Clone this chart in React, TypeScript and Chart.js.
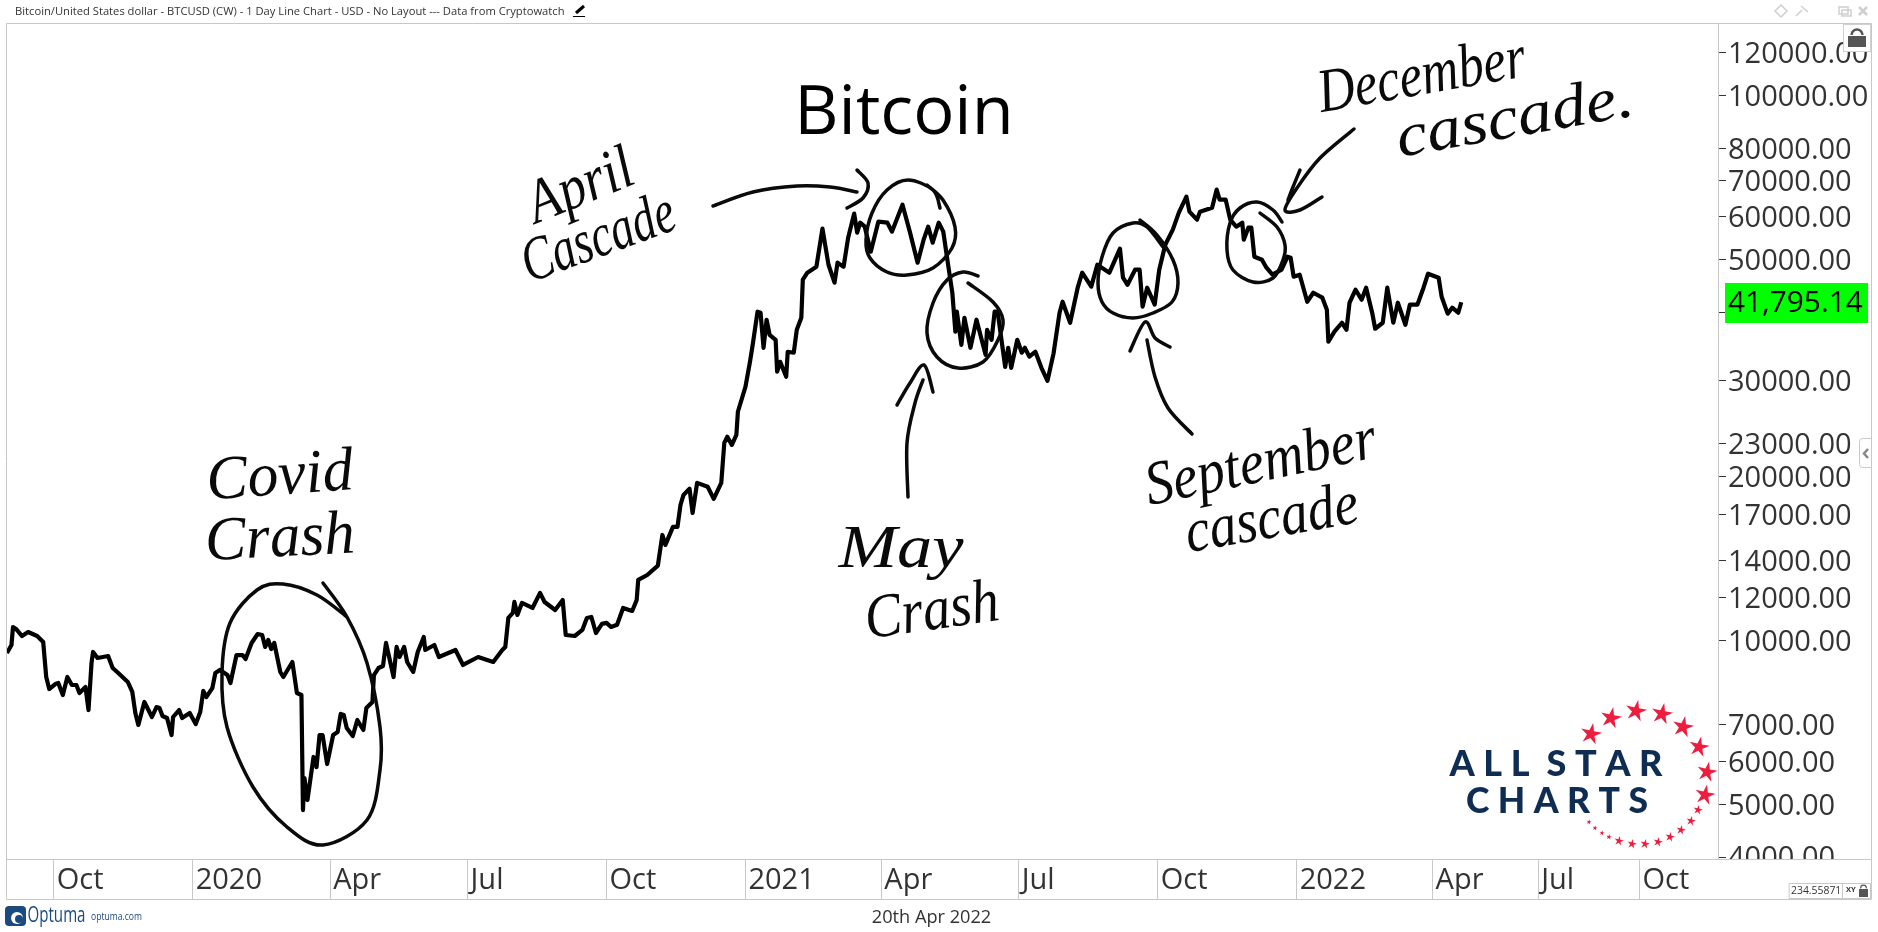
import React, { useEffect, useRef } from "react";
import { Chart, registerables } from "chart.js";

Chart.register(...registerables);

// days counted from 1 Oct 2019
const days = [-31,-28,-27,-25,-21,-17,-11,-7,-5,-3,1,3,6,9,12,15,17,21,23,25,26,29,36,39,42,49,52,54,56,60,65,68,70,72,75,78,79,83,85,90,94,97,99,101,105,107,110,115,117,121,125,127,131,135,138,140,142,144,146,150,152,158,161,164,165,166,168,172,174,176,178,181,185,188,190,192,194,198,201,205,207,211,212,215,218,220,225,227,229,232,234,238,241,245,246,252,255,266,271,281,291,297,299,301,304,305,307,310,317,322,325,332,337,339,345,350,353,356,359,363,366,369,373,377,383,386,387,393,400,403,405,410,413,415,417,421,423,426,433,437,442,444,446,449,452,453,458,461,463,466,468,470,472,474,478,479,481,485,486,490,492,495,496,499,505,509,513,517,519,523,526,530,532,534,537,541,546,552,555,562,567,572,576,579,582,586,589,592,595,597,598,601,603,607,611,617,618,621,623,625,630,632,634,638,641,643,646,650,654,658,662,666,668,673,678,681,687,691,699,706,708,711,716,719,721,724,729,732,736,741,745,750,752,757,759,767,770,772,776,779,783,787,788,791,793,795,800,803,807,813,817,819,821,825,830,834,840,843,844,848,853,856,858,862,866,869,873,875,880,883,887,890,895,898,903,907,910,917,919,923,926,930,932];
const prices = [9485,9810,10586,10497,10190,10363,10190,9935,8568,8144,8318,8353,7940,8568,8283,8283,8007,8212,7452,9091,9525,9285,9363,8900,8752,8390,8045,7360,6995,7710,7235,7545,7513,7265,7205,6705,7235,7452,7205,7360,7023,7390,8077,7873,8177,8715,8826,8640,8353,9402,9402,9246,9895,10277,10234,9730,10020,9645,9895,8752,8568,9130,8007,7940,4882,5590,5093,6110,5855,6705,6705,5930,6705,6790,7330,7297,6905,6676,7144,6848,7513,7710,8640,8900,8976,9895,8568,9730,9324,9730,9130,8752,9525,10148,9605,9810,9324,9605,9015,9324,9130,9605,9730,11000,11235,11768,11140,11720,11473,12227,11768,11376,11868,10234,10190,10453,10997,11043,10320,10728,10773,10586,10683,11473,11328,11868,12916,13190,13720,15620,14980,16165,16165,17740,18500,19000,17150,19470,19150,18200,19470,23060,23660,22860,23860,26300,29230,32490,35200,40150,39980,34470,38810,36420,35660,31150,32490,30500,33900,33760,37200,39140,45970,47350,48570,57040,48970,45390,49400,48570,54900,60800,56100,58500,57520,51750,58760,58500,56320,63130,56100,49400,54450,57520,53760,58500,56320,49400,43500,36900,40150,34900,39140,34470,38810,33470,37200,35660,40150,40150,31800,34470,31670,35660,33760,34470,33200,33900,31670,29980,33630,39980,41880,38320,44440,47350,44640,48970,47350,52410,46360,45000,47955,47955,41030,44440,41380,47955,53300,56800,61050,65300,61300,59255,61300,62340,67275,64490,64490,59255,57520,58500,54450,57280,57280,50660,50030,48360,46950,47955,50660,50450,46560,46950,41880,43500,42600,40490,35360,36900,38320,37200,41700,44060,42240,44440,39980,37360,38320,44440,38320,41700,38000,41380,41380,44440,47150,46360,42780,39820,40830,39980,41795];

const yTicks = [120000,100000,80000,70000,60000,50000,40000,30000,23000,20000,17000,14000,12000,10000,7000,6000,5000,4000];
const xTickDays = [0,92,183,274,366,458,548,639,731,823,913,983,1050];
const xTickLabels = ["Oct","2020","Apr","Jul","Oct","2021","Apr","Jul","Oct","2022","Apr","Jul","Oct"];

const titleText = "Bitcoin/United States dollar - BTCUSD (CW) - 1 Day Line Chart - USD - No Layout --- Data from Cryptowatch";
const lastPrice = "41,795.14";

type Pt = [number, number];
const strokes: Pt[][] = [
  [[323,583],[347,617],[367,663],[380,727],[380,770],[367,820],[323,845],[287,827],[253,787],[227,727],[222,673],[230,623],[257,590],[283,584],[317,595],[347,617]],
  [[713,206],[753,192],[797,186],[830,187],[857,192]],
  [[857,170],[868,183],[863,198],[847,208]],
  [[940,208],[933,190],[908,180],[887,190],[872,213],[866,240],[870,258],[887,272],[907,275],[933,268],[952,248],[955,227],[943,200],[927,185]],
  [[978,276],[963,272],[947,280],[933,303],[927,333],[937,357],[958,368],[983,362],[998,340],[1003,320],[993,302],[968,283]],
  [[897,405],[910,383],[924,365],[933,392]],
  [[923,380],[915,403],[907,443],[908,497]],
  [[1140,220],[1157,235],[1173,260],[1178,283],[1172,302],[1153,313],[1133,318],[1113,313],[1102,302],[1098,283],[1102,257],[1113,233],[1133,223],[1147,227],[1163,247]],
  [[1130,351],[1145,322],[1155,338],[1170,347]],
  [[1147,340],[1155,377],[1168,408],[1192,434]],
  [[1282,222],[1273,210],[1257,202],[1240,208],[1230,223],[1227,250],[1233,270],[1253,282],[1273,278],[1283,260],[1285,245],[1277,227],[1260,213]],
  [[1354,129],[1320,158],[1297,188],[1285,210],[1300,210],[1322,197]],
  [[1300,170],[1293,187],[1288,200]],
];

const notes: { t: string; x: number; y: number; w: number; r: number }[] = [
  { t: "Covid", x: 280, y: 478, w: 147, r: -4 },
  { t: "Crash", x: 280, y: 540, w: 150, r: -3 },
  { t: "April", x: 581, y: 188, w: 110, r: -22 },
  { t: "Cascade", x: 599, y: 240, w: 160, r: -20 },
  { t: "May", x: 901, y: 551, w: 125, r: 0 },
  { t: "Crash", x: 932, y: 613, w: 135, r: -8 },
  { t: "September", x: 1261, y: 465, w: 235, r: -12 },
  { t: "cascade", x: 1272, y: 521, w: 175, r: -10 },
  { t: "December", x: 1422, y: 78, w: 210, r: -10 },
  { t: "cascade.", x: 1515, y: 120, w: 240, r: -10 },
];

const stars: [number, number, number][] = [
  [1591,734,9],[1611,718,9],[1636,711,9],[1662,714,9],[1683,727,9],[1699,747,8.5],[1707,772,8.5],[1705,795,8.5],
  [1698,810,4],[1691,821,4],[1681,830,4],[1670,837,4],[1658,842,4],[1645,844,4],[1632,844,4],[1619,841,4],[1609,837,2.5],[1602,833,2.2],[1595,828,2.2],[1589,822,2.2],
];

const FONT = '"Open Sans"';

function spline(ctx: CanvasRenderingContext2D, p: Pt[]) {
  ctx.beginPath();
  ctx.moveTo(p[0][0], p[0][1]);
  for (let i = 0; i < p.length - 1; i++) {
    const a = p[Math.max(i - 1, 0)], b = p[i], c = p[i + 1], d = p[Math.min(i + 2, p.length - 1)];
    ctx.bezierCurveTo(b[0] + (c[0] - a[0]) / 6, b[1] + (c[1] - a[1]) / 6, c[0] - (d[0] - b[0]) / 6, c[1] - (d[1] - b[1]) / 6, c[0], c[1]);
  }
  ctx.stroke();
}

function star(ctx: CanvasRenderingContext2D, x: number, y: number, r: number) {
  ctx.beginPath();
  for (let i = 0; i < 10; i++) {
    const a = -Math.PI / 2 + 0.2 + (i * Math.PI) / 5;
    const q = i % 2 ? r * 0.45 : r * 1.25;
    ctx.lineTo(x + Math.cos(a) * q, y + Math.sin(a) * q);
  }
  ctx.closePath();
  ctx.fill();
}

function fitText(ctx: CanvasRenderingContext2D, t: string, x: number, y: number, w: number, rot: number) {
  ctx.save();
  ctx.translate(x, y);
  ctx.rotate((rot * Math.PI) / 180);
  const m = ctx.measureText(t).width;
  ctx.scale(w / m, 1);
  ctx.textAlign = "center";
  ctx.textBaseline = "middle";
  ctx.fillText(t, 0, 0);
  ctx.restore();
}

const overlay = {
  id: "overlay",
  afterDraw(chart: any) {
    const ctx: CanvasRenderingContext2D = chart.ctx;
    ctx.save();
    // clip tick labels at the time band
    ctx.fillStyle = "#fff";
    ctx.fillRect(1719, 860, 151, 38);
    // frame
    ctx.strokeStyle = "#c8c8c8";
    ctx.lineWidth = 1;
    ctx.beginPath();
    ctx.moveTo(1871.5, 23.5); ctx.lineTo(6.5, 23.5); ctx.lineTo(6.5, 899.5); ctx.lineTo(1871.5, 899.5); ctx.closePath();
    ctx.moveTo(6.5, 859.5); ctx.lineTo(1871.5, 859.5);
    ctx.moveTo(1718.5, 23.5); ctx.lineTo(1718.5, 859.5);
    ctx.stroke();

    // header
    ctx.fillStyle = "#333";
    ctx.font = `11.2px ${FONT}`;
    ctx.textAlign = "left";
    ctx.textBaseline = "middle";
    ctx.fillText(titleText, 15, 12);
    ctx.strokeStyle = "#000";
    ctx.lineWidth = 3;
    ctx.beginPath(); ctx.moveTo(576, 13); ctx.lineTo(584, 6); ctx.stroke();
    ctx.lineWidth = 1;
    ctx.beginPath(); ctx.moveTo(573, 16.5); ctx.lineTo(585, 16.5); ctx.stroke();

    // window icons
    ctx.strokeStyle = "#cfcfcf";
    ctx.lineWidth = 1.5;
    ctx.beginPath(); ctx.moveTo(1781, 5); ctx.lineTo(1787, 11); ctx.lineTo(1781, 17); ctx.lineTo(1775, 11); ctx.closePath(); ctx.stroke();
    ctx.beginPath(); ctx.moveTo(1796, 16); ctx.lineTo(1802, 10); ctx.moveTo(1801, 6); ctx.lineTo(1808, 12); ctx.stroke();
    ctx.strokeRect(1839, 7, 9, 7); ctx.strokeRect(1842, 10, 9, 6);
    ctx.lineWidth = 2.5;
    ctx.beginPath(); ctx.moveTo(1859, 7); ctx.lineTo(1867, 15); ctx.moveTo(1867, 7); ctx.lineTo(1859, 15); ctx.stroke();

    // lock
    ctx.fillStyle = "#fff";
    ctx.fillRect(1843.5, 24.5, 27, 27);
    ctx.strokeStyle = "#d0d0d0"; ctx.lineWidth = 1;
    ctx.strokeRect(1843.5, 24.5, 27, 27);
    ctx.fillStyle = "#555";
    ctx.fillRect(1848, 36, 18, 11);
    ctx.strokeStyle = "#555"; ctx.lineWidth = 2.5;
    ctx.beginPath(); ctx.arc(1857, 35, 5.5, Math.PI, 0); ctx.stroke();

    // last price box
    ctx.fillStyle = "#00ff00";
    ctx.fillRect(1725, 283, 143, 40);
    ctx.fillStyle = "#000";
    ctx.font = `29.8px ${FONT}`;
    ctx.textAlign = "left";
    ctx.fillText(lastPrice, 1728, 304);

    // side tab
    ctx.fillStyle = "#fff"; ctx.strokeStyle = "#c8c8c8"; ctx.lineWidth = 1;
    ctx.beginPath(); ctx.roundRect(1859.5, 438.5, 12, 29, [3, 0, 0, 3]); ctx.fill(); ctx.stroke();
    ctx.strokeStyle = "#888"; ctx.lineWidth = 2.5;
    ctx.beginPath(); ctx.moveTo(1868, 449); ctx.lineTo(1864, 453.5); ctx.lineTo(1868, 458); ctx.stroke();

    // title
    ctx.fillStyle = "#000";
    ctx.font = `68.5px ${FONT}`;
    ctx.textAlign = "center";
    ctx.textBaseline = "alphabetic";
    ctx.fillText("Bitcoin", 904, 134);

    // hand drawn rings and arrows
    ctx.strokeStyle = "#0a0a0a"; ctx.lineWidth = 3.5; ctx.lineCap = "round"; ctx.lineJoin = "round";
    strokes.forEach((s) => spline(ctx, s));

    // hand written notes
    ctx.fillStyle = "#0a0a0a";
    ctx.font = `italic 62px "Liberation Serif"`;
    notes.forEach((n) => fitText(ctx, n.t, n.x, n.y, n.w, n.r));

    // brand
    ctx.fillStyle = "#0f2d52";
    ctx.font = `900 36px Lato`;
    fitText(ctx, "A L L  S T A R", 1556, 764, 213, 0);
    fitText(ctx, "C H A R T S", 1557, 801, 182, 0);
    ctx.fillStyle = "#ee1c3d";
    stars.forEach(([x, y, r]) => star(ctx, x, y, r));

    // footer
    ctx.fillStyle = "#333";
    ctx.font = `18.2px ${FONT}`;
    ctx.textAlign = "center";
    ctx.textBaseline = "middle";
    ctx.fillText("20th Apr 2022", 931.5, 918);

    ctx.fillStyle = "#1a4a7f";
    ctx.beginPath(); ctx.roundRect(5, 906, 21, 20, 4); ctx.fill();
    ctx.fillStyle = "#fff";
    ctx.beginPath(); ctx.arc(17, 918, 6, 0, Math.PI * 2); ctx.fill();
    ctx.fillStyle = "#1a4a7f";
    ctx.beginPath(); ctx.arc(19, 919, 4, 0, Math.PI * 2); ctx.fill();
    ctx.font = `22px ${FONT}`;
    fitText(ctx, "Optuma", 56.5, 916, 58, 0);
    ctx.font = `11px ${FONT}`;
    fitText(ctx, "optuma.com", 116.5, 917, 51, 0);

    // scale box
    ctx.fillStyle = "#fff"; ctx.strokeStyle = "#c8c8c8"; ctx.lineWidth = 1;
    ctx.fillRect(1789.5, 883.5, 81, 15); ctx.strokeRect(1789.5, 883.5, 81, 15);
    ctx.beginPath(); ctx.moveTo(1842.5, 883.5); ctx.lineTo(1842.5, 898.5); ctx.stroke();
    ctx.fillStyle = "#333";
    ctx.font = `10.4px ${FONT}`;
    ctx.textAlign = "left";
    ctx.fillText("234.55871", 1791, 891);
    ctx.font = `bold 7.5px ${FONT}`;
    ctx.fillText("XY", 1846, 890);
    ctx.fillStyle = "#555";
    ctx.fillRect(1859, 889, 9, 8);
    ctx.strokeStyle = "#555"; ctx.lineWidth = 1.2;
    ctx.beginPath(); ctx.arc(1863.5, 888, 2.8, Math.PI, 0); ctx.stroke();
    ctx.restore();
  },
};

export default function App() {
  const ref = useRef<HTMLCanvasElement>(null);
  useEffect(() => {
    document.body.style.margin = "0";
    const chart = new Chart(ref.current!, {
      type: "line",
      data: {
        datasets: [
          {
            data: days.map((d, i) => ({ x: d, y: prices[i] })),
            borderColor: "#000",
            borderWidth: 4.2,
            pointRadius: 0,
            tension: 0,
            borderJoinStyle: "round",
          },
        ],
      },
      options: {
        animation: false,
        responsive: false,
        devicePixelRatio: 1,
        layout: { padding: { left: 6.5, top: 23, right: 7, bottom: 33 } },
        plugins: { legend: { display: false }, tooltip: { enabled: false }, title: { display: false } },
        scales: {
          x: {
            type: "linear",
            min: -31.3,
            max: 1102,
            afterBuildTicks: (a: any) => { a.ticks = xTickDays.map((v) => ({ value: v })); },
            afterFit: (a: any) => { a.height = 40; },
            grid: { drawOnChartArea: false, tickLength: 40, tickColor: "#c8c8c8", tickWidth: 1 },
            border: { display: false },
            ticks: {
              autoSkip: false,
              maxRotation: 0,
              minRotation: 0,
              align: "start",
              labelOffset: 3,
              padding: -36,
              color: "#333",
              font: { family: "Open Sans", size: 29 },
              callback: (v: any) => xTickLabels[xTickDays.indexOf(Number(v))] ?? "",
            },
          },
          y: {
            type: "logarithmic",
            position: "right",
            min: 3969,
            max: 136100,
            afterBuildTicks: (a: any) => { a.ticks = yTicks.map((v) => ({ value: v })); },
            afterFit: (a: any) => { a.width = 153; },
            grid: { drawOnChartArea: false, tickLength: 8, tickColor: "#333", tickWidth: 1 },
            border: { display: false },
            ticks: {
              autoSkip: false,
              padding: 2,
              labelOffset: 2,
              crossAlign: "near",
              color: "#333",
              font: { family: "Open Sans", size: 29 },
              callback: (v: any) => (Number(v) === 40000 ? "" : Number(v).toFixed(2)),
            },
          },
        },
      },
      plugins: [overlay],
    } as any);
    return () => chart.destroy();
  }, []);
  return (
    <div style={{ position: "absolute", left: 0, top: 0, width: 1878, height: 932, background: "#fff" }}>
      <canvas ref={ref} width={1878} height={932} style={{ display: "block" }} />
    </div>
  );
}
